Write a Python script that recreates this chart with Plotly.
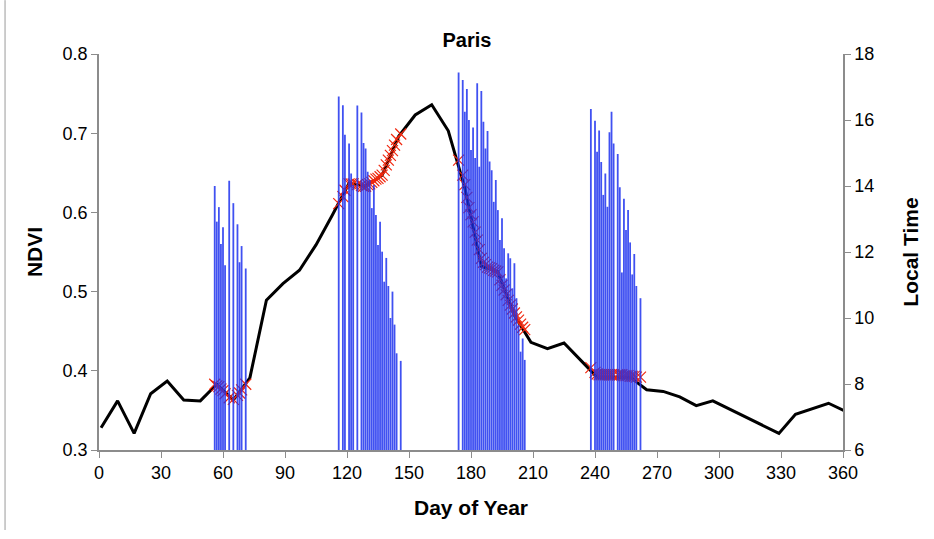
import plotly.graph_objects as go

# 8-day NDVI composite (day of year, NDVI)
ndvi_days = [1, 9, 17, 25, 33, 41, 49, 57, 65, 73, 81, 89, 97, 105, 113, 121, 129, 137, 145,
             153, 161, 169, 177, 185, 193, 201, 209, 217, 225, 233, 241, 249, 257, 265, 273,
             281, 289, 297, 305, 313, 321, 329, 337, 345, 353, 361]
ndvi_vals = [0.328, 0.362, 0.321, 0.371, 0.387, 0.363, 0.362, 0.383, 0.363, 0.391, 0.489, 0.510,
             0.527, 0.559, 0.597, 0.637, 0.633, 0.647, 0.696, 0.723, 0.736, 0.703, 0.631, 0.532,
             0.525, 0.470, 0.436, 0.428, 0.435, 0.414, 0.392, 0.392, 0.392, 0.376, 0.374, 0.367,
             0.356, 0.362, 0.352, 0.342, 0.332, 0.321, 0.345, 0.352, 0.359, 0.349]

# Observation days with local overpass time
obs_days = [56, 57, 58, 59, 60, 61, 63, 65, 67, 68, 69, 71,
            116, 118, 119, 121, 122, 123, 125, 127, 128, 129, 130, 131, 132, 133, 134, 135,
            136, 137, 138, 139, 140, 141, 142, 143, 144, 146,
            174, 176, 177, 178, 179, 180, 181, 182, 183, 184, 185, 186, 187, 188, 189, 190,
            191, 192, 193, 194, 195, 196, 197, 198, 199, 200, 201, 202, 203, 204, 205, 206,
            238, 240, 241, 242, 243, 244, 245, 246, 247, 248, 249, 251, 252, 253, 254, 255,
            256, 257, 258, 259, 260, 262]
local_time = [14.00, 12.92, 13.36, 12.24, 12.75, 11.60, 14.16, 13.48, 12.84, 11.69, 12.18, 11.50,
              16.71, 16.45, 15.55, 15.29, 14.38, 14.03, 16.44, 16.23, 15.30, 15.14, 14.43, 14.18,
              13.33, 14.03, 13.12, 12.21, 12.92, 12.01, 11.10, 11.82, 10.97, 10.00, 10.80, 9.80,
              8.93, 8.70,
              17.44, 17.21, 16.25, 16.94, 16.00, 15.09, 15.77, 14.85, 17.11, 14.58, 16.88, 15.95,
              15.14, 15.67, 14.74, 14.48, 13.52, 14.18, 13.27, 12.36, 13.02, 12.11, 11.20, 11.96,
              11.81, 10.90, 11.66, 10.60, 9.79, 8.98, 9.38, 8.73,
              16.33, 15.98, 15.04, 15.68, 14.73, 13.73, 14.38, 13.37, 15.63, 16.25, 15.29, 14.97,
              13.96, 11.38, 13.61, 12.67, 13.27, 12.29, 11.32, 11.94, 10.97, 10.60]
# NDVI on each observation day
obs_ndvi = [0.383, 0.381, 0.380, 0.377, 0.375, 0.371, 0.366, 0.364, 0.369, 0.372, 0.376, 0.383,
            0.611, 0.620, 0.628, 0.636, 0.636, 0.636, 0.635, 0.634, 0.633, 0.633, 0.635, 0.636,
            0.638, 0.640, 0.642, 0.643, 0.645, 0.647, 0.653, 0.660, 0.666, 0.672, 0.678, 0.685,
            0.692, 0.699,
            0.666, 0.647, 0.635, 0.619, 0.606, 0.597, 0.588, 0.575, 0.565, 0.553, 0.542, 0.537,
            0.534, 0.531, 0.530, 0.529, 0.527, 0.526, 0.525, 0.515, 0.508, 0.502, 0.496, 0.489,
            0.483, 0.478, 0.473, 0.468, 0.464, 0.459, 0.455, 0.452,
            0.404, 0.398, 0.396, 0.395, 0.395, 0.395, 0.395, 0.395, 0.395, 0.395, 0.395, 0.395,
            0.395, 0.395, 0.394, 0.394, 0.394, 0.393, 0.393, 0.393, 0.392, 0.392]

x_ticks = list(range(0, 361, 30))
time_base = 6
font = "Liberation Sans, Arial, sans-serif"
axis_grey = "#8c8c8c"

# thin vertical bars: one segment per observation, from the axis floor up to the local time
bar_x, bar_y = [], []
for d, t in zip(obs_days, local_time):
    bar_x += [d, d, None]
    bar_y += [time_base, t, None]

fig = go.Figure()
fig.add_trace(go.Scatter(x=ndvi_days, y=ndvi_vals, mode="lines",
                         line=dict(color="black", width=3), yaxis="y", showlegend=False))
fig.add_trace(go.Scatter(x=obs_days, y=obs_ndvi, mode="markers",
                         marker=dict(symbol="x-thin", size=11, line=dict(color="#f0280f", width=1.2)),
                         yaxis="y", showlegend=False))
fig.add_trace(go.Scatter(x=bar_x, y=bar_y, mode="lines", connectgaps=False,
                         line=dict(color="rgba(30,50,238,0.85)", width=1.8),
                         yaxis="y2", showlegend=False, hoverinfo="skip"))

fig.update_layout(
    width=934, height=539,
    paper_bgcolor="white", plot_bgcolor="white",
    margin=dict(l=99, r=91, t=54, b=89),
    font=dict(family=font, size=18, color="black"),
    title=dict(text="<b>Paris</b>", x=0.5, xanchor="center", y=0.925, yanchor="middle",
               font=dict(size=20)),
    xaxis=dict(range=[0, 360], tickvals=x_ticks, ticks="outside", ticklen=6, tickcolor=axis_grey,
               showline=True, linecolor=axis_grey, linewidth=1.5, showgrid=False, zeroline=False,
               title=dict(text="<b>Day of Year</b>", font=dict(size=21), standoff=18)),
    yaxis=dict(range=[0.3, 0.8], dtick=0.1, tickformat=".1f", ticks="outside", ticklen=6,
               tickcolor=axis_grey, showline=True, linecolor=axis_grey, linewidth=1.5,
               showgrid=False, zeroline=False,
               title=dict(text="<b>NDVI</b>", font=dict(size=21), standoff=14)),
    yaxis2=dict(range=[6, 18], dtick=2, overlaying="y", side="right", ticks="outside", ticklen=6,
                tickcolor=axis_grey, showline=True, linecolor=axis_grey, linewidth=1.5,
                showgrid=False, zeroline=False,
                title=dict(text="<b>Local Time</b>", font=dict(size=21), standoff=30)),
    shapes=[dict(type="line", xref="paper", yref="paper", x0=-0.1263, x1=-0.1263,
                 y0=-0.202, y1=1.136, line=dict(color="#9a9a9a", width=1))],
)

fig.write_html("out.html")
